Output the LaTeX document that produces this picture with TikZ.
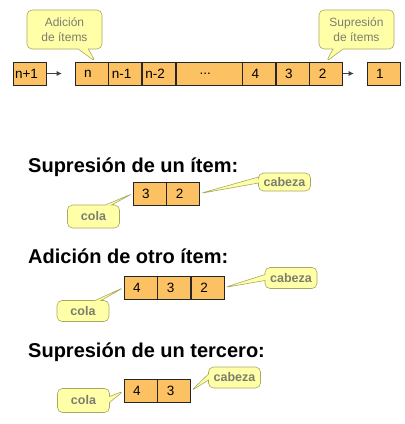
\documentclass[tikz,border=0pt]{standalone}
\usepackage{fontspec}
\setmainfont{Liberation Sans}
\usepackage{tikz}
\usetikzlibrary{arrows.meta, positioning, shapes.callouts}
\definecolor{cellfill}{RGB}{252,193,98}
\definecolor{bubblefill}{RGB}{255,255,168}
\definecolor{bubbleline}{RGB}{168,168,96}
\definecolor{bubbletext}{RGB}{125,125,110}
\tikzset{
  cell/.style={draw=black!85, fill=cellfill, line width=.6pt, minimum width=33pt, minimum height=23pt,
    inner sep=0pt, font=\fontsize{13.5}{13.5}\selectfont, execute at begin node=\hspace*{-7pt}},
  bubble/.style={rectangle callout, rounded corners=5pt, draw=bubbleline, fill=bubblefill,
    text=bubbletext, inner sep=1pt, line width=.6pt},
  bigbubble/.style={bubble, minimum width=75pt, minimum height=39pt, callout pointer width=10pt,
    align=center, font=\fontsize{12}{15}\selectfont},
  tag/.style={bubble, minimum width=52pt, minimum height=21pt, callout pointer width=6pt,
    font=\bfseries\fontsize{12.5}{12.5}\selectfont},
  heading/.style={anchor=base west, inner sep=0pt, font=\bfseries\fontsize{20}{20}\selectfont},
  link/.style={draw=black!75, line width=.6pt, -{Latex[length=5pt,width=5pt]}, shorten >=13pt}
}

\begin{document}
\begin{tikzpicture}[x=1pt, y=-1pt]
\useasboundingbox (0,0) rectangle (405,424);

\node[cell] (qnext) at (30,73.5) {n+1};
\node[cell] (qn) at (91.5,73.5) {n};
\node[cell, right=0pt of qn] (qn1) {n-1};
\node[cell, right=0pt of qn1] (qn2) {n-2};
\node[cell, minimum width=66pt, right=0pt of qn2] (qdots) {...};
\node[cell, right=0pt of qdots] (qfour) {4};
\node[cell, right=0pt of qfour] (qthree) {3};
\node[cell, right=0pt of qthree] (qtwo) {2};
\node[cell] (qone) at (383.5,73.5) {1};
\draw[link] (qnext) -- (qn);
\draw[link] (qtwo) -- (qone);

\node[bigbubble, callout absolute pointer={([xshift=4pt]qn.north)}] (addbubble) at (64.5,29.5) {Adición\\de ítems};
\node[bigbubble, callout absolute pointer={(qtwo.north)}] (delbubble) at (356.5,29.5) {Supresión\\de ítems};

\node[heading] (headA) at (28,172) {Supresión de un ítem:};
\node[cell] (athree) at (149.5,193.5) {3};
\node[cell, right=0pt of athree] (atwo) {2};
\node[tag, minimum height=18pt, callout absolute pointer={(atwo.east)}] (aheadtag) at (284.5,182) {cabeza};
\node[tag, minimum height=23pt, callout absolute pointer={(athree.west)}] (atailtag) at (93.5,216.5) {cola};

\node[heading] (headB) at (28,263) {Adición de otro ítem:};
\node[cell] (bfour) at (140.5,287.5) {4};
\node[cell, right=0pt of bfour] (bthree) {3};
\node[cell, right=0pt of bthree] (btwo) {2};
\node[tag, callout absolute pointer={(btwo.east)}] (bheadtag) at (291,278) {cabeza};
\node[tag, callout absolute pointer={(bfour.west)}] (btailtag) at (83,311) {cola};

\node[heading] (headC) at (28,357) {Supresión de un tercero:};
\node[cell] (cfour) at (140.5,391) {4};
\node[cell, right=0pt of cfour] (cthree) {3};
\node[tag, callout absolute pointer={(cthree.east)}] (cheadtag) at (234.5,377.5) {cabeza};
\node[tag, minimum height=24pt, callout absolute pointer={(cfour.west)}] (ctailtag) at (83.5,400.5) {cola};

\end{tikzpicture}
\end{document}
